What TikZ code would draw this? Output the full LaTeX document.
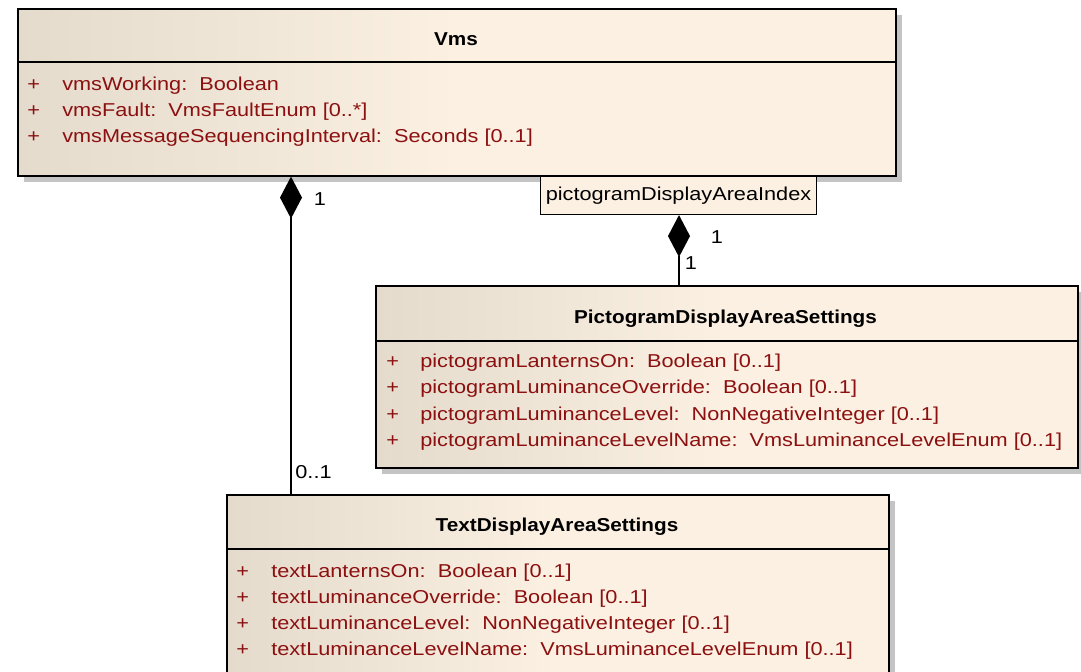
\documentclass[tikz,border=0pt]{standalone}
\usepackage{fontspec}
\setmainfont{Liberation Sans}[FakeStretch=1.163, BoldFeatures={FakeStretch=1.11}]
\usetikzlibrary{arrows.meta,shadows}

% one drawing unit = one pixel of the 1081 x 671 sheet
\newdimen\pxu \pxu=0.75pt
\newcommand\umlfont{\fontsize{14pt}{16pt}\selectfont}

\definecolor{attrred}{RGB}{140,16,16}
\definecolor{fillL}{RGB}{228,219,205}
\definecolor{fillR}{RGB}{251,240,226}
\definecolor{shadowgray}{RGB}{196,196,196}

% class fill: darker at the left, light from the middle on
\pgfdeclarehorizontalshading{boxgrad}{100bp}{color(0bp)=(fillL); color(25bp)=(fillL); color(50bp)=(fillR); color(100bp)=(fillR)}

\tikzset{
  umlbox/.style={rectangle, draw=black, line width=1.2pt, shading=boxgrad,
    inner sep=0pt, anchor=north west,
    drop shadow={shadow xshift=5pt, shadow yshift=-5pt, fill=shadowgray, opacity=1}},
  qualbox/.style={rectangle, draw=black, line width=0.8pt, fill=fillR,
    inner sep=0pt, anchor=north west, font=\umlfont},
  divider/.style={line width=1pt},
  title/.style={font=\umlfont\bfseries, anchor=base, inner sep=0pt},
  attr/.style={font=\umlfont, text=attrred, anchor=base west, inner sep=0pt},
  mult/.style={font=\umlfont, inner sep=0pt},
  comp/.style={line width=1pt, {Diamond[length=31.5pt, width=16.5pt, line width=0pt]}-},
}

\begin{document}
\begin{tikzpicture}[x=0.75pt, y=-0.75pt]
\clip (0,0) rectangle (1081,671);
\fill[white] (0,0) rectangle (1081,671);

% ---------- Vms ----------
\node[umlbox, minimum width=878\pxu, minimum height=167\pxu] (vms) at (17,8) {};
\draw[divider] (vms.west |- 0,62) -- (vms.east |- 0,62);
\node[title] (vmsT) at (456,45) {Vms};
\node[attr] (vmsP1) at (27,90) {+};
\node[attr] (vmsA1) at (62,90) {vmsWorking:\ \ Boolean};
\node[attr] (vmsP2) at (27,116) {+};
\node[attr] (vmsA2) at (62,116) {vmsFault:\ \ VmsFaultEnum [0..*]};
\node[attr] (vmsP3) at (27,142) {+};
\node[attr] (vmsA3) at (62,142) {vmsMessageSequencingInterval:\ \ Seconds [0..1]};

% qualifier on Vms
\node[qualbox, minimum width=276\pxu, minimum height=38\pxu] (qual) at (540,176) {pictogramDisplayAreaIndex};

% ---------- PictogramDisplayAreaSettings ----------
\node[umlbox, minimum width=702\pxu, minimum height=182\pxu] (pict) at (375,285) {};
\draw[divider] (pict.west |- 0,341) -- (pict.east |- 0,341);
\node[title] (pictT) at (725.5,323) {PictogramDisplayAreaSettings};
\node[attr] (pictP1) at (386,367) {+};
\node[attr] (pictA1) at (420,367) {pictogramLanternsOn:\ \ Boolean [0..1]};
\node[attr] (pictP2) at (386,393.5) {+};
\node[attr] (pictA2) at (420,393.5) {pictogramLuminanceOverride:\ \ Boolean [0..1]};
\node[attr] (pictP3) at (386,420) {+};
\node[attr] (pictA3) at (420,420) {pictogramLuminanceLevel:\ \ NonNegativeInteger [0..1]};
\node[attr] (pictP4) at (386,446.5) {+};
\node[attr] (pictA4) at (420,446.5) {pictogramLuminanceLevelName:\ \ VmsLuminanceLevelEnum [0..1]};

% ---------- TextDisplayAreaSettings ----------
\node[umlbox, minimum width=662\pxu, minimum height=206\pxu] (textbox) at (226,494) {};
\draw[divider] (textbox.west |- 0,549) -- (textbox.east |- 0,549);
\node[title] (textT) at (557,531) {TextDisplayAreaSettings};
\node[attr] (textP1) at (236,577) {+};
\node[attr] (textA1) at (271,577) {textLanternsOn:\ \ Boolean [0..1]};
\node[attr] (textP2) at (236,603) {+};
\node[attr] (textA2) at (271,603) {textLuminanceOverride:\ \ Boolean [0..1]};
\node[attr] (textP3) at (236,629) {+};
\node[attr] (textA3) at (271,629) {textLuminanceLevel:\ \ NonNegativeInteger [0..1]};
\node[attr] (textP4) at (236,655) {+};
\node[attr] (textA4) at (271,655) {textLuminanceLevelName:\ \ VmsLuminanceLevelEnum [0..1]};

% ---------- compositions ----------
\coordinate (ax) at (291,0);
\draw[comp] (vms.south -| ax) -- (textbox.north -| ax);
\node[mult] (m1) at (320,199) {1};
\node[mult] (m2) at (313.5,472) {0..1};

\coordinate (bx) at (679,0);
\draw[comp] (qual.south -| bx) -- (pict.north -| bx);
\node[mult] (m3) at (717,237) {1};
\node[mult] (m4) at (691,263) {1};
\end{tikzpicture}
\end{document}
